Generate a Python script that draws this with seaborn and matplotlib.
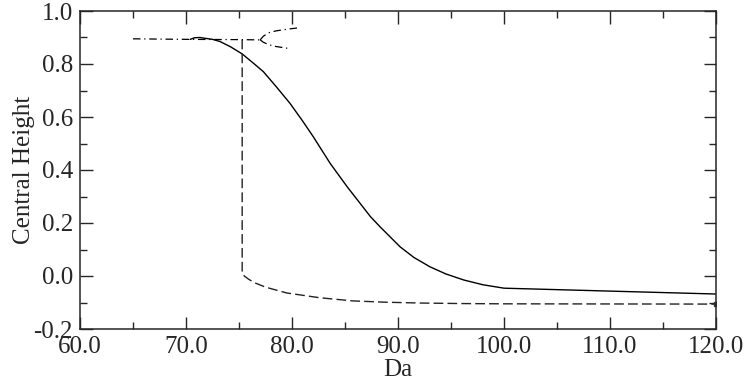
"""
Central height vs Da: solution branches (solid, dashed, dash-dot).
"""

import glob
import matplotlib
matplotlib.use('Agg')
import matplotlib.pyplot as plt
import matplotlib.ticker as mticker
from matplotlib import font_manager
import pandas as pd
import seaborn as sns

# solid branch
solid_da = [70.4, 70.8, 71.3, 71.8, 72.5, 73.2, 74.2, 75.3, 76.3, 77.3, 78.5,
            79.8, 81.0, 82.0, 83.6, 85.2, 87.4, 88.3, 89.25, 90.2, 91.5, 93.0,
            94.5, 96.2, 98.0, 100.0, 120.0]
solid_h = [0.893, 0.899, 0.900, 0.897, 0.893, 0.885, 0.865, 0.838, 0.805, 0.771, 0.715,
           0.652, 0.585, 0.526, 0.425, 0.337, 0.224, 0.186, 0.148, 0.110, 0.070, 0.035,
           0.008, -0.015, -0.033, -0.046, -0.068]

# dashed branch
dashed_da = [75.3, 75.3, 75.5, 75.9, 76.5, 77.5, 79.5, 82.6, 85.75, 88.9, 92.1,
             96.0, 100.0, 120.0]
dashed_h = [0.892, 0.011, 0.000, -0.012, -0.026, -0.042, -0.064, -0.082, -0.094,
            -0.099, -0.102, -0.104, -0.105, -0.106]

# dash-dot branch (main + fork)
dd_da = [65.0, 70.0, 75.0, 77.0]
dd_h = [0.895, 0.893, 0.892, 0.891]
up_da = [77.0, 77.3, 77.8, 78.5, 79.5, 80.5]
up_h = [0.891, 0.905, 0.918, 0.925, 0.931, 0.936]
low_da = [77.0, 77.3, 77.8, 78.5, 79.8]
low_h = [0.891, 0.882, 0.873, 0.866, 0.858]

sns.set_style('ticks')
# make sure the Times-like serif is registered
for f in glob.glob('/usr/share/fonts/**/LiberationSerif-*.ttf', recursive=True):
    font_manager.fontManager.addfont(f)
plt.rcParams['font.family'] = ['Liberation Serif', 'DejaVu Serif']

fig = plt.figure(figsize=(7.47, 3.81), dpi=100)
ax = fig.add_axes([80 / 747, 1 - 329 / 381, (716 - 80) / 747, (329 - 11) / 381])

dash = (7, 3)
dashdot = (6, 3, 1, 3)

sns.lineplot(data=pd.DataFrame({'Da': solid_da, 'h': solid_h}), x='Da', y='h',
             sort=False, estimator=None, color='black', lw=1.0, ax=ax)
sns.lineplot(data=pd.DataFrame({'Da': dashed_da, 'h': dashed_h}), x='Da', y='h',
             sort=False, estimator=None, color='#222222', lw=1.0, ax=ax)
ax.lines[-1].set_dashes(dash)
ax.plot(dashed_da[-1], dashed_h[-1], 's', color='#333333', ms=3)
for xs, ys in [(dd_da, dd_h), (up_da, up_h), (low_da, low_h)]:
    sns.lineplot(data=pd.DataFrame({'Da': xs, 'h': ys}), x='Da', y='h',
                 sort=False, estimator=None, color='black', lw=0.9, ax=ax)
    ax.lines[-1].set_dashes(dashdot)

ax.set_xlim(60, 120)
ax.set_ylim(-0.2, 1.0)
ax.xaxis.set_major_locator(mticker.MultipleLocator(10))
ax.xaxis.set_minor_locator(mticker.MultipleLocator(5))
ax.yaxis.set_major_locator(mticker.MultipleLocator(0.2))
ax.yaxis.set_minor_locator(mticker.MultipleLocator(0.1))
ax.xaxis.set_major_formatter(mticker.FormatStrFormatter('%.1f'))
ax.yaxis.set_major_formatter(mticker.FormatStrFormatter('%.1f'))
ax.tick_params(which='both', direction='in', top=True, right=True,
               width=1.0, labelsize=18, pad=5)
ax.tick_params(which='major', length=9)
ax.tick_params(which='minor', length=5)
for s in ax.spines.values():
    s.set_linewidth(1.1)
    s.set_visible(True)

ax.set_xlabel('Da', fontsize=18, labelpad=1)
ax.set_ylabel('Central Height', fontsize=18, labelpad=-1)

fig.savefig('out.png', dpi=100)
